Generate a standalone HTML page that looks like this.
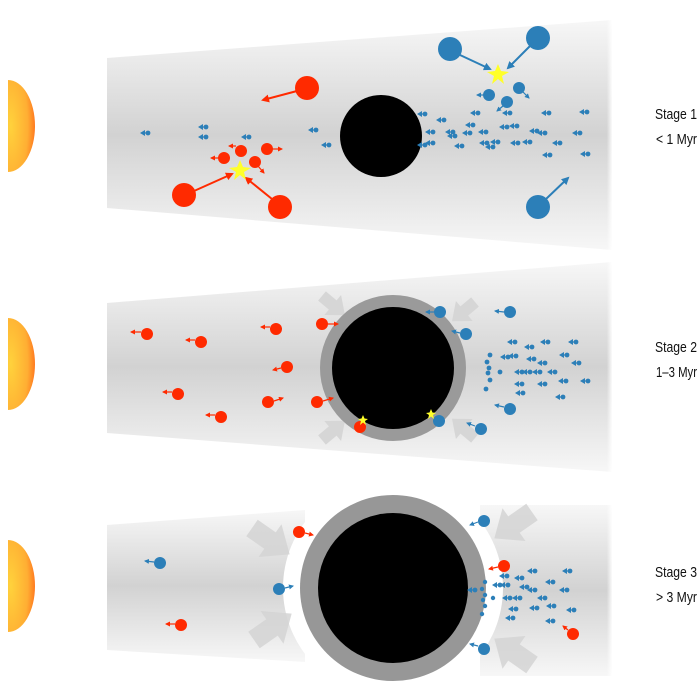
<!DOCTYPE html>
<html><head><meta charset="utf-8"><style>
html,body{margin:0;padding:0;background:#fff;width:700px;height:700px;overflow:hidden}
</style></head><body>
<svg width="700" height="700" viewBox="0 0 700 700" xmlns="http://www.w3.org/2000/svg">
<defs>
<linearGradient id="b1" x1="0" y1="0" x2="0" y2="1">
<stop offset="0" stop-color="#f7f7f7"/><stop offset="0.5" stop-color="#d2d2d2"/><stop offset="1" stop-color="#f7f7f7"/></linearGradient>
<linearGradient id="fadeR" x1="0" y1="0" x2="1" y2="0">
<stop offset="0.9" stop-color="#fff" stop-opacity="0"/><stop offset="1" stop-color="#fff" stop-opacity="0.9"/></linearGradient>
<radialGradient id="sun" cx="0.1" cy="0.5" r="0.9">
<stop offset="0" stop-color="#ffd23c"/><stop offset="0.7" stop-color="#ffae33"/><stop offset="1" stop-color="#ff7a20"/></radialGradient>
<g id="tb"><circle cx="0" cy="0" r="2.4" fill="#2c7fb8"/><path d="M-8,0 L-3,-3 L-3,3Z" fill="#2c7fb8"/><line x1="-4" y1="0" x2="0" y2="0" stroke="#2c7fb8" stroke-width="1.2"/></g>
<marker id="mr" markerWidth="8" markerHeight="8" refX="6" refY="4" orient="auto" markerUnits="userSpaceOnUse"><path d="M0,0 L8,4 L0,8Z" fill="#ff2a00"/></marker>
<marker id="mb" markerWidth="8" markerHeight="8" refX="6" refY="4" orient="auto" markerUnits="userSpaceOnUse"><path d="M0,0 L8,4 L0,8Z" fill="#2c7fb8"/></marker>
<marker id="mr2" markerWidth="5" markerHeight="5" refX="4" refY="2.5" orient="auto" markerUnits="userSpaceOnUse"><path d="M0,0 L5,2.5 L0,5Z" fill="#ff2a00"/></marker>
<marker id="mb2" markerWidth="5" markerHeight="5" refX="4" refY="2.5" orient="auto" markerUnits="userSpaceOnUse"><path d="M0,0 L5,2.5 L0,5Z" fill="#2c7fb8"/></marker>
<path id="garrow" d="M0,-6 L14,-6 L14,-13 L30,0 L14,13 L14,6 L0,6Z" fill="#d6d6d6"/>
<path id="garrowL" d="M0,-10 L22,-10 L22,-20 L46,0 L22,20 L22,10 L0,10Z" fill="#d4d4d4" opacity="0.85"/>
<path id="star" d="M0,-10 L3,-3 L11,-2 L4,2 L6,10 L0,5 L-6,10 L-4,2 L-11,-2 L-3,-3Z" fill="#ffff2a"/>
<path id="star2" d="M0,-5 L1.5,-1.5 L5,-1 L2,1 L3,5 L0,2.5 L-3,5 L-2,1 L-5,-1 L-1.5,-1.5Z" fill="#ffff2a"/>
</defs>

<g fill="url(#sun)">
<path d="M8,80 A27,46 0 0 1 8,172 Z"/>
<path d="M8,318 A27,46 0 0 1 8,410 Z"/>
<path d="M8,540 A27,46 0 0 1 8,632 Z"/>
</g>

<!-- Stage 1 -->
<path d="M107,58 L612,20 L612,250 L107,208Z" fill="url(#b1)"/>
<rect x="560" y="20" width="52" height="230" fill="url(#fadeR)"/>
<circle cx="381" cy="136" r="41" fill="#000"/>
<g stroke="#ff2a00" stroke-width="2" fill="none" marker-end="url(#mr)">
<line x1="297" y1="91" x2="263" y2="100"/>
<line x1="194" y1="191" x2="232" y2="174"/>
<line x1="272" y1="199" x2="246" y2="178"/>
</g>
<g fill="#ff2a00"><circle cx="307" cy="88" r="12"/><circle cx="184" cy="195" r="12"/><circle cx="280" cy="207" r="12"/>
<circle cx="241" cy="151" r="6"/><circle cx="224" cy="158" r="6"/><circle cx="255" cy="162" r="6"/><circle cx="267" cy="149" r="6"/></g>
<g stroke="#ff2a00" stroke-width="1.2" marker-end="url(#mr2)">
<line x1="236" y1="146" x2="229" y2="146"/><line x1="218" y1="158" x2="211" y2="158"/><line x1="258" y1="166" x2="264" y2="173"/><line x1="273" y1="149" x2="282" y2="149"/></g>
<use href="#star" x="240" y="170"/>
<g stroke="#2c7fb8" stroke-width="2" marker-end="url(#mb)">
<line x1="460" y1="55" x2="490" y2="69"/><line x1="530" y1="46" x2="508" y2="68"/><line x1="546" y1="199" x2="568" y2="178"/></g>
<g fill="#2c7fb8"><circle cx="450" cy="49" r="12"/><circle cx="538" cy="38" r="12"/><circle cx="538" cy="207" r="12"/>
<circle cx="489" cy="95" r="6"/><circle cx="507" cy="102" r="6"/><circle cx="519" cy="88" r="6"/></g>
<g stroke="#2c7fb8" stroke-width="1.2" marker-end="url(#mb2)">
<line x1="483" y1="95" x2="477" y2="95"/><line x1="503" y1="106" x2="497" y2="111"/><line x1="523" y1="92" x2="529" y2="98"/></g>
<use href="#star" x="498" y="74"/>
<g>
<use href="#tb" x="148" y="133"/><use href="#tb" x="206" y="127"/><use href="#tb" x="206" y="137"/><use href="#tb" x="249" y="137"/><use href="#tb" x="316" y="130"/><use href="#tb" x="329" y="145"/>
<use href="#tb" x="425" y="114"/><use href="#tb" x="444" y="120"/><use href="#tb" x="473" y="125"/><use href="#tb" x="433" y="132"/><use href="#tb" x="453" y="132"/><use href="#tb" x="470" y="133"/><use href="#tb" x="486" y="132"/><use href="#tb" x="455" y="136"/><use href="#tb" x="507" y="127"/><use href="#tb" x="517" y="126"/><use href="#tb" x="537" y="131"/><use href="#tb" x="545" y="133"/><use href="#tb" x="549" y="113"/><use href="#tb" x="587" y="112"/><use href="#tb" x="580" y="133"/><use href="#tb" x="433" y="143"/><use href="#tb" x="462" y="146"/><use href="#tb" x="487" y="143"/><use href="#tb" x="498" y="142"/><use href="#tb" x="493" y="147"/><use href="#tb" x="518" y="143"/><use href="#tb" x="530" y="142"/><use href="#tb" x="560" y="143"/><use href="#tb" x="550" y="155"/><use href="#tb" x="588" y="154"/><use href="#tb" x="425" y="145"/><use href="#tb" x="478" y="113"/><use href="#tb" x="510" y="113"/>
</g>

<!-- Stage 2 -->
<path d="M107,303 L612,262 L612,472 L107,433Z" fill="url(#b1)"/>
<rect x="560" y="262" width="52" height="210" fill="url(#fadeR)"/>
<use href="#garrow" transform="translate(322,296) rotate(40)"/>
<use href="#garrow" transform="translate(475,302) rotate(140)"/>
<use href="#garrow" transform="translate(322,440) rotate(-40)"/>
<use href="#garrow" transform="translate(475,438) rotate(-140)"/>
<circle cx="393" cy="368" r="73" fill="#9a9a9a"/>
<circle cx="393" cy="368" r="61" fill="#000"/>
<g fill="#ff2a00"><circle cx="147" cy="334" r="6"/><circle cx="201" cy="342" r="6"/><circle cx="276" cy="329" r="6"/><circle cx="287" cy="367" r="6"/><circle cx="178" cy="394" r="6"/><circle cx="221" cy="417" r="6"/><circle cx="268" cy="402" r="6"/><circle cx="322" cy="324" r="6"/><circle cx="317" cy="402" r="6"/><circle cx="360" cy="427" r="6"/></g>
<g stroke="#ff2a00" stroke-width="1.2" marker-end="url(#mr2)">
<line x1="141" y1="332" x2="131" y2="332"/><line x1="195" y1="340" x2="186" y2="340"/><line x1="270" y1="327" x2="261" y2="327"/><line x1="281" y1="368" x2="273" y2="370"/><line x1="172" y1="392" x2="163" y2="392"/><line x1="215" y1="415" x2="206" y2="415"/><line x1="274" y1="401" x2="283" y2="398"/><line x1="328" y1="324" x2="338" y2="324"/><line x1="323" y1="401" x2="333" y2="398"/></g>
<use href="#star2" x="363" y="420"/>
<g fill="#2c7fb8"><circle cx="440" cy="312" r="6"/><circle cx="466" cy="334" r="6"/><circle cx="510" cy="312" r="6"/><circle cx="510" cy="409" r="6"/><circle cx="481" cy="429" r="6"/><circle cx="439" cy="421" r="6"/></g>
<g stroke="#2c7fb8" stroke-width="1.2" marker-end="url(#mb2)">
<line x1="434" y1="312" x2="426" y2="312"/><line x1="460" y1="333" x2="452" y2="331"/><line x1="504" y1="312" x2="495" y2="311"/><line x1="504" y1="407" x2="495" y2="405"/><line x1="475" y1="426" x2="467" y2="423"/></g>
<use href="#star2" x="431" y="414"/>
<g fill="#2c7fb8"><circle cx="490" cy="355" r="2.4"/><circle cx="487" cy="362" r="2.4"/><circle cx="489" cy="368" r="2.4"/><circle cx="488" cy="373" r="2.4"/><circle cx="490" cy="380" r="2.4"/><circle cx="486" cy="389" r="2.4"/><circle cx="500" cy="372" r="2.4"/></g>
<g>
<use href="#tb" x="515" y="342"/><use href="#tb" x="532" y="347"/><use href="#tb" x="548" y="342"/><use href="#tb" x="576" y="342"/><use href="#tb" x="508" y="357"/><use href="#tb" x="516" y="356"/><use href="#tb" x="534" y="359"/><use href="#tb" x="545" y="363"/><use href="#tb" x="567" y="355"/><use href="#tb" x="579" y="363"/><use href="#tb" x="522" y="372"/><use href="#tb" x="530" y="372"/><use href="#tb" x="540" y="372"/><use href="#tb" x="555" y="372"/><use href="#tb" x="588" y="381"/><use href="#tb" x="522" y="384"/><use href="#tb" x="545" y="384"/><use href="#tb" x="566" y="381"/><use href="#tb" x="523" y="393"/><use href="#tb" x="563" y="397"/>
</g>

<!-- Stage 3 -->
<path d="M107,525 L305,510 L305,662 L107,650Z" fill="url(#b1)"/>
<path d="M480,505 L612,505 L612,676 L480,676Z" fill="url(#b1)"/>
<rect x="560" y="505" width="52" height="171" fill="url(#fadeR)"/>
<circle cx="393" cy="588" r="110" fill="#fff"/>
<use href="#garrowL" transform="translate(252,528) rotate(35)"/>
<use href="#garrowL" transform="translate(254,640) rotate(-35)"/>
<use href="#garrowL" transform="translate(532,512) rotate(145)"/>
<use href="#garrowL" transform="translate(532,665) rotate(-145)"/>
<circle cx="393" cy="588" r="93" fill="#979797"/>
<circle cx="393" cy="588" r="75" fill="#000"/>
<g fill="#ff2a00"><circle cx="299" cy="532" r="6"/><circle cx="181" cy="625" r="6"/><circle cx="504" cy="566" r="6"/><circle cx="573" cy="634" r="6"/></g>
<g stroke="#ff2a00" stroke-width="1.2" marker-end="url(#mr2)">
<line x1="305" y1="533" x2="313" y2="535"/><line x1="175" y1="624" x2="166" y2="624"/><line x1="498" y1="567" x2="489" y2="569"/><line x1="568" y1="630" x2="563" y2="626"/></g>
<g fill="#2c7fb8"><circle cx="160" cy="563" r="6"/><circle cx="279" cy="589" r="6"/><circle cx="484" cy="521" r="6"/><circle cx="484" cy="649" r="6"/></g>
<g stroke="#2c7fb8" stroke-width="1.2" marker-end="url(#mb2)">
<line x1="154" y1="562" x2="145" y2="561"/><line x1="285" y1="588" x2="293" y2="586"/><line x1="478" y1="522" x2="470" y2="525"/><line x1="478" y1="646" x2="470" y2="644"/></g>
<g fill="#2c7fb8"><circle cx="485" cy="582" r="2.2"/><circle cx="482" cy="589" r="2.2"/><circle cx="485" cy="595" r="2.2"/><circle cx="483" cy="600" r="2.2"/><circle cx="485" cy="606" r="2.2"/><circle cx="482" cy="614" r="2.2"/><circle cx="493" cy="598" r="2.2"/></g>
<g>
<use href="#tb" x="535" y="571"/><use href="#tb" x="570" y="571"/><use href="#tb" x="507" y="576"/><use href="#tb" x="522" y="578"/><use href="#tb" x="508" y="585"/><use href="#tb" x="553" y="582"/><use href="#tb" x="500" y="585"/><use href="#tb" x="527" y="587"/><use href="#tb" x="535" y="590"/><use href="#tb" x="567" y="590"/><use href="#tb" x="510" y="598"/><use href="#tb" x="520" y="598"/><use href="#tb" x="545" y="598"/><use href="#tb" x="516" y="609"/><use href="#tb" x="537" y="608"/><use href="#tb" x="554" y="606"/><use href="#tb" x="574" y="610"/><use href="#tb" x="513" y="618"/><use href="#tb" x="553" y="621"/><use href="#tb" x="475" y="590"/>
</g>

<!-- Labels -->
<g font-family="Liberation Sans, Arial, sans-serif" font-size="15" fill="#111">
<text x="655" y="119" textLength="42" lengthAdjust="spacingAndGlyphs">Stage 1</text><text x="656" y="144" textLength="41" lengthAdjust="spacingAndGlyphs">&lt; 1 Myr</text>
<text x="655" y="352" textLength="42" lengthAdjust="spacingAndGlyphs">Stage 2</text><text x="656" y="377" textLength="41" lengthAdjust="spacingAndGlyphs">1–3 Myr</text>
<text x="655" y="577" textLength="42" lengthAdjust="spacingAndGlyphs">Stage 3</text><text x="656" y="602" textLength="41" lengthAdjust="spacingAndGlyphs">&gt; 3 Myr</text>
</g>
</svg>
</body></html>
